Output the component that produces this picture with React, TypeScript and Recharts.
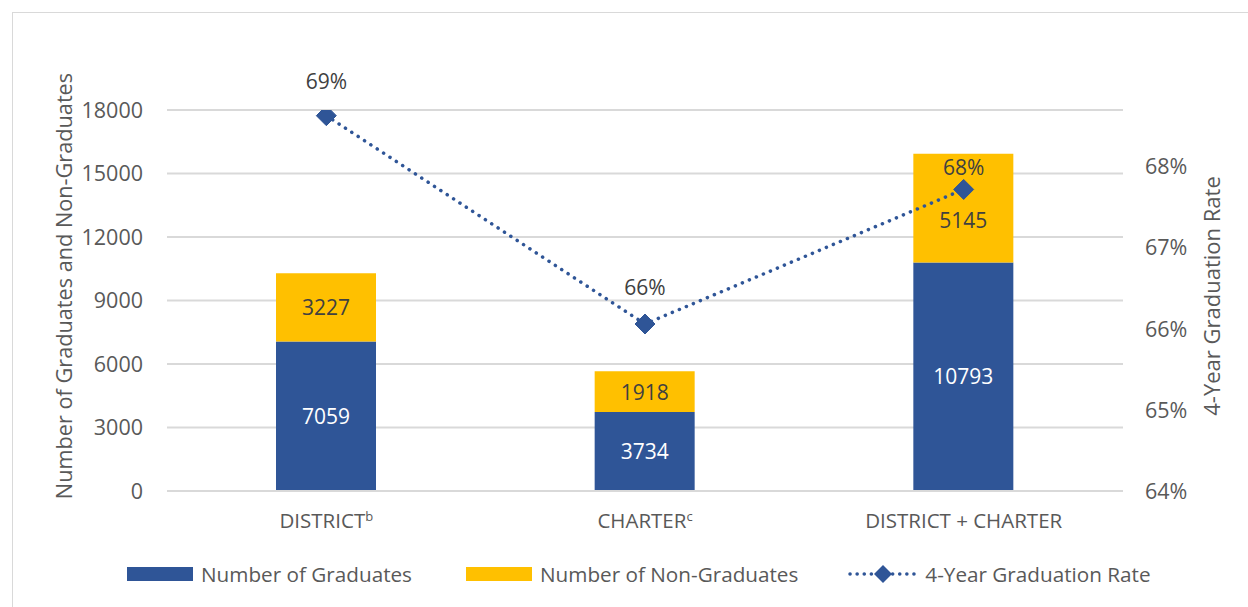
import React from "react";
import {
  ComposedChart,
  Bar,
  Line,
  XAxis,
  YAxis,
  CartesianGrid,
  LabelList,
} from "recharts";

// values
const categories = ["DISTRICT", "CHARTER", "DISTRICT + CHARTER"];
const footnotes = ["b", "c", ""];
const graduates = [7059, 3734, 10793];
const nonGraduates = [3227, 1918, 5145];
const gradRate = [0.6863, 0.6606, 0.6772];

const countTicks = [0, 3000, 6000, 9000, 12000, 15000, 18000];
const rateTicks = [0.64, 0.65, 0.66, 0.67, 0.68];

const BLUE = "#2F5597";
const GOLD = "#FFC000";
const GREY = "#595959";
const DARK = "#404040";
const FONT = "'Open Sans', sans-serif";

// how far each rate label sits above its marker
const rateLabelLift = [27, 29, 14];
// the last non-graduate label is pushed down a little to clear the marker
const nonGradLabelDrop = [0, 0, 12];

const chartData = categories.map((name, i) => ({
  name,
  note: footnotes[i],
  graduates: graduates[i],
  nonGraduates: nonGraduates[i],
  rate: gradRate[i],
}));

const CategoryTick = (props: any) => {
  const { x, y, payload } = props;
  const i = categories.indexOf(payload.value);
  return (
    <text x={x} y={y} dy="0.71em" textAnchor="middle" fill={GREY} fontSize={20.5} fontFamily={FONT}>
      {payload.value}
      {footnotes[i] ? (
        <tspan fontSize={13} dy={-7}>
          {footnotes[i]}
        </tspan>
      ) : null}
    </text>
  );
};

const Diamond = (props: any) => {
  const { cx, cy } = props;
  if (cx == null || cy == null) return null;
  const r = 10;
  return (
    <path
      d={`M${cx},${cy - r}L${cx + r},${cy}L${cx},${cy + r}L${cx - r},${cy}Z`}
      fill={BLUE}
      stroke={BLUE}
      strokeWidth={1}
      strokeLinejoin="round"
    />
  );
};

const RateLabel = (props: any) => {
  const { x, y, value, index } = props;
  return (
    <text
      x={x}
      y={y - rateLabelLift[index]}
      textAnchor="middle"
      fill={DARK}
      fontSize={21}
      fontFamily={FONT}
    >
      {Math.round(value * 100)}%
    </text>
  );
};

const NonGradLabel = (props: any) => {
  const { x, y, width, height, value, index } = props;
  return (
    <text
      x={x + width / 2}
      y={y + height / 2 + nonGradLabelDrop[index]}
      textAnchor="middle"
      dominantBaseline="central"
      fill={DARK}
      fontSize={21}
      fontFamily={FONT}
    >
      {value}
    </text>
  );
};

const LegendRow: React.FC = () => (
  <div
    style={{
      position: "absolute",
      top: 560,
      left: 127,
      display: "flex",
      alignItems: "center",
      fontFamily: FONT,
      fontSize: 20.7,
      color: GREY,
      whiteSpace: "nowrap",
    }}
  >
    <span style={{ width: 66, height: 14, background: BLUE, display: "inline-block", marginRight: 8 }} />
    <span style={{ marginRight: 54 }}>Number of Graduates</span>
    <span style={{ width: 66, height: 14, background: GOLD, display: "inline-block", marginRight: 8 }} />
    <span style={{ marginRight: 50 }}>Number of Non-Graduates</span>
    <svg width={70} height={22} style={{ marginRight: 7 }}>
      <line x1={2} y1={11} x2={68} y2={11} stroke={BLUE} strokeWidth={3.5} strokeDasharray="0.1 7" strokeLinecap="round" />
      <path d="M35,2L44,11L35,20L26,11Z" fill={BLUE} />
    </svg>
    <span>4-Year Graduation Rate</span>
  </div>
);

const App: React.FC = () => {
  return (
    <div style={{ position: "absolute", left: 0, top: 0, width: 1248, height: 607, background: "#fff", overflow: "hidden" }}>
      <div
        style={{
          position: "absolute",
          left: 12,
          top: 12,
          width: 1260,
          height: 620,
          border: "1.5px solid #d9d9d9",
        }}
      />
      <ComposedChart
        width={1248}
        height={607}
        data={chartData}
        margin={{ top: 110, right: 0, left: 0, bottom: 76 }}
        barCategoryGap={0}
        style={{ position: "absolute", left: 0, top: 0 }}
      >
        <CartesianGrid vertical={false} yAxisId="count" stroke="#d9d9d9" strokeWidth={2} />
        <XAxis
          dataKey="name"
          height={40}
          tickLine={false}
          axisLine={{ stroke: "#d9d9d9", strokeWidth: 2 }}
          tickSize={0}
          tickMargin={22}
          tick={<CategoryTick />}
          interval={0}
        />
        <YAxis
          yAxisId="count"
          width={167}
          domain={[0, 18000]}
          ticks={countTicks}
          axisLine={false}
          tickLine={false}
          tickSize={0}
          tickMargin={24}
          tick={{ fill: GREY, fontSize: 21.5, fontFamily: FONT }}
          label={() => (
            <text
              transform="translate(63, 286) rotate(-90)"
              textAnchor="middle"
              dominantBaseline="central"
              fill={GREY}
              fontSize={21.7}
              fontFamily={FONT}
            >
              Number of Graduates and Non-Graduates
            </text>
          )}
        />
        <YAxis
          yAxisId="rate"
          orientation="right"
          width={125}
          domain={[0.64, 0.687]}
          ticks={rateTicks}
          allowDataOverflow
          axisLine={false}
          tickLine={false}
          tickSize={0}
          tickMargin={22}
          tickFormatter={(v: number) => `${Math.round(v * 100)}%`}
          tick={{ fill: GREY, fontSize: 21.5, fontFamily: FONT, textAnchor: "start" }}
          label={() => (
            <text
              transform="translate(1211, 296) rotate(-90)"
              textAnchor="middle"
              dominantBaseline="central"
              fill={GREY}
              fontSize={22}
              fontFamily={FONT}
            >
              4-Year Graduation Rate
            </text>
          )}
        />
        <Bar yAxisId="count" dataKey="graduates" stackId="a" fill={BLUE} barSize={100} isAnimationActive={false}>
          <LabelList dataKey="graduates" position="center" fill="#ffffff" fontSize={21} fontFamily={FONT} />
        </Bar>
        <Bar yAxisId="count" dataKey="nonGraduates" stackId="a" fill={GOLD} barSize={100} isAnimationActive={false}>
          <LabelList dataKey="nonGraduates" content={<NonGradLabel />} />
        </Bar>
        <Line
          yAxisId="rate"
          dataKey="rate"
          stroke={BLUE}
          strokeWidth={3.5}
          strokeDasharray="0.1 7.5"
          strokeLinecap="round"
          dot={<Diamond />}
          activeDot={false}
          isAnimationActive={false}
        >
          <LabelList dataKey="rate" content={<RateLabel />} />
        </Line>
      </ComposedChart>
      <LegendRow />
    </div>
  );
};

export default App;
